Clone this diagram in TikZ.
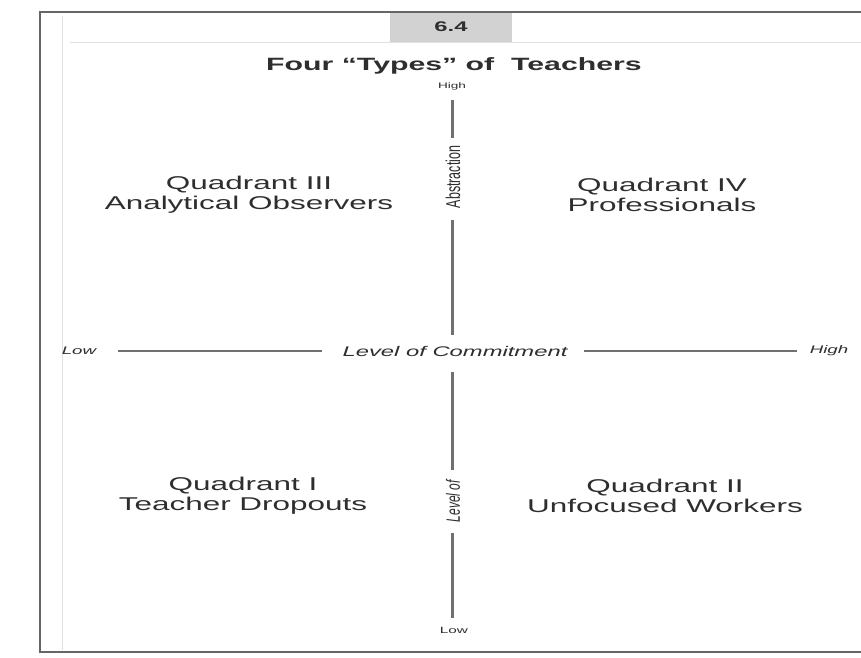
\documentclass[tikz,border=0pt]{standalone}
\usepackage{fontspec}
\setmainfont{Liberation Sans}
\newfontfamily\wfont[FakeStretch=1.7]{Liberation Sans}
\definecolor{txt}{HTML}{2E2E2E}
\definecolor{axis}{HTML}{707070}
\definecolor{framec}{HTML}{666666}
\definecolor{tabfill}{HTML}{D2D2D2}
\begin{document}
\begin{tikzpicture}[x=1pt,y=-1pt,
  lbl/.style={text=txt, inner sep=1pt},
  quad/.style={lbl, align=center, font=\wfont\fontsize{18.5}{20}\selectfont},
  small/.style={lbl, font=\wfont\fontsize{8}{9}\selectfont},
  axlbl/.style={lbl, font=\wfont\itshape\fontsize{11}{12}\selectfont},
  vline/.style={draw=axis, line width=3pt},
  hline/.style={draw=axis, line width=1.8pt},
  framel/.style={draw=framec, line width=2.2pt},
  faint/.style={draw=black!12, line width=0.8pt},
  tabbox/.style={fill=tabfill, minimum width=122pt, minimum height=30pt, inner sep=0pt, text=txt, font=\wfont\bfseries\fontsize{14}{16}\selectfont}
]
\useasboundingbox (0,0) rectangle (861,657);
% frame
\draw[faint] (62,16) -- (62,650);
\draw[faint] (70,42) -- (861,42);
\node[tabbox] (tab) at (451,27) {6.4};
\draw[framel] (861,12) -- (40,12) -- (40,652) -- (861,652);
% title
\node[lbl, font=\wfont\bfseries\fontsize{17.8}{19}\selectfont] (title) at (454,66) {Four “Types” of\ \ Teachers};
% vertical axis labels
\node[small] (vhigh) at (452,86) {High};
\node[lbl] (abs) at (453,177) {\scalebox{1.6}[1]{\rotatebox{90}{\fontsize{12.5}{13}\selectfont Abstraction}}};
\node[lbl] (levof) at (453,501) {\scalebox{1.6}[1]{\rotatebox{90}{\itshape\fontsize{12}{13}\selectfont Level of}}};
\node[lbl, font=\wfont\fontsize{9}{10}\selectfont] (vlow) at (454,630) {Low};
% horizontal axis labels
\node[axlbl] (lowl) at (79,351) {Low};
\node[lbl, font=\wfont\itshape\fontsize{14}{16}\selectfont] (commit) at (455,351) {Level of Commitment};
\node[axlbl] (highr) at (829,351) {High};
% axis coordinates
\coordinate (v1) at (452,100);
\coordinate (v2) at (452,138);
\coordinate (v3) at (452,220);
\coordinate (v4) at (452,335);
\coordinate (v5) at (452,372);
\coordinate (v6) at (452,470);
\coordinate (v7) at (452,533);
\coordinate (v8) at (452,618);
\coordinate (h1) at (118,351);
\coordinate (h2) at (322,351);
\coordinate (h3) at (584,351);
\coordinate (h4) at (797,351);
\draw[vline] (v1) -- (v2);
\draw[vline] (v3) -- (v4);
\draw[vline] (v5) -- (v6);
\draw[vline] (v7) -- (v8);
\draw[hline] (h1) -- (h2);
\draw[hline] (h3) -- (h4);
% quadrants
\node[quad] (q3) at (249,195) {Quadrant III\\Analytical Observers};
\node[quad] (q4) at (662,195) {Quadrant IV\\Professionals};
\node[quad] (q1) at (243,496) {Quadrant I\\Teacher Dropouts};
\node[quad] (q2) at (665,496) {Quadrant II\\Unfocused Workers};
\end{tikzpicture}
\end{document}
